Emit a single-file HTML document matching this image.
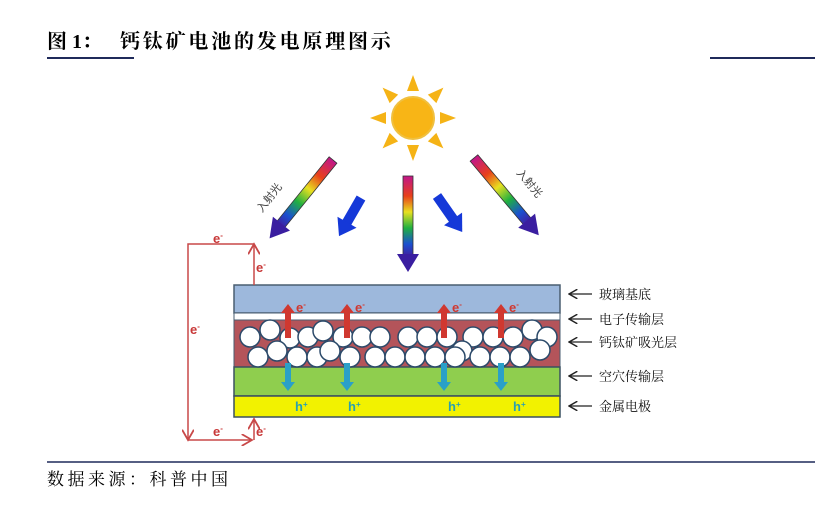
<!DOCTYPE html>
<html><head><meta charset="utf-8"><style>
body{margin:0;background:#fff;width:826px;height:531px;overflow:hidden}
svg{display:block}
</style></head><body>
<svg width="826" height="531" viewBox="0 0 826 531" xmlns="http://www.w3.org/2000/svg">
<defs>
<linearGradient id="rb" x1="0" y1="0" x2="0" y2="1">
<stop offset="0" stop-color="#c0168a"/><stop offset="0.25" stop-color="#e8401a"/><stop offset="0.45" stop-color="#e8e020"/><stop offset="0.65" stop-color="#20b040"/><stop offset="0.85" stop-color="#1a50d0"/><stop offset="1" stop-color="#4020a0"/>
</linearGradient>
<g id="rarrow"><rect x="-5" y="0" width="10" height="80" fill="url(#rb)" stroke="#333" stroke-width="0.8"/><polygon points="-11,78 11,78 0,96" fill="#3a1ea0"/></g>
<g id="barrow"><rect x="-5" y="0" width="10" height="30" fill="#1538d8"/><polygon points="-11,28 11,28 0,44" fill="#1538d8"/></g>
<marker id="ra" markerWidth="8" markerHeight="8" refX="7" refY="4" orient="auto"><path d="M0,0 L7,4 L0,8" fill="none" stroke="#c84848" stroke-width="1.2"/></marker>
<marker id="ka" markerWidth="8" markerHeight="8" refX="7" refY="4" orient="auto"><path d="M0,0 L7,4 L0,8" fill="none" stroke="#222" stroke-width="1.2"/></marker>
</defs>
<g font-family="Liberation Serif, Noto Serif CJK SC, serif" font-size="20" font-weight="bold" fill="#000">
<text x="47" y="48">图 1：</text>
<text x="120" y="48" letter-spacing="2.8">钙钛矿电池的发电原理图示</text>
</g>
<line x1="47" y1="58" x2="134" y2="58" stroke="#1f2a5a" stroke-width="2"/>
<line x1="710" y1="58" x2="815" y2="58" stroke="#1f2a5a" stroke-width="2"/>
<g transform="translate(413,118)" fill="#f5b316">
<circle r="21" fill="#f8b516" stroke="#f0c040" stroke-width="2"/>
<g id="ray"><polygon points="-6,-27 6,-27 0,-43"/></g>
<use href="#ray" transform="rotate(45)"/><use href="#ray" transform="rotate(90)"/><use href="#ray" transform="rotate(135)"/><use href="#ray" transform="rotate(180)"/><use href="#ray" transform="rotate(225)"/><use href="#ray" transform="rotate(270)"/><use href="#ray" transform="rotate(315)"/>
</g>
<use href="#rarrow" transform="translate(333,160) rotate(39) scale(1,1.05)"/>
<use href="#rarrow" transform="translate(408,176)"/>
<use href="#rarrow" transform="translate(474,158) rotate(-40) scale(1,1.05)"/>
<use href="#barrow" transform="translate(361,198) rotate(30)"/>
<use href="#barrow" transform="translate(437,196) rotate(-35)"/>
<text font-family="Liberation Sans, Noto Sans CJK SC, sans-serif" font-size="11" fill="#444" transform="translate(262,213) rotate(-52)">入射光</text>
<text font-family="Liberation Sans, Noto Sans CJK SC, sans-serif" font-size="11" fill="#444" transform="translate(516,173) rotate(50)">入射光</text>
<rect x="234" y="285" width="326" height="28" fill="#9db8dc" stroke="#4a5e70" stroke-width="1.5"/>
<rect x="234" y="313" width="326" height="7" fill="#fff" stroke="#4a5e70" stroke-width="1"/>
<rect x="234" y="320" width="326" height="47" fill="#b4545a" stroke="#4a5e70" stroke-width="1"/>
<rect x="234" y="367" width="326" height="29" fill="#8fce4e" stroke="#3a5060" stroke-width="1.5"/>
<rect x="234" y="396" width="326" height="21" fill="#f2f200" stroke="#3a5060" stroke-width="1.5"/>
<g fill="#fff" stroke="#2c4a6a" stroke-width="1.5">
<circle cx="250" cy="337" r="10"/><circle cx="270" cy="330" r="10"/><circle cx="290" cy="338" r="10"/><circle cx="308" cy="337" r="10"/><circle cx="323" cy="331" r="10"/><circle cx="343" cy="337" r="10"/><circle cx="362" cy="337" r="10"/><circle cx="380" cy="337" r="10"/><circle cx="408" cy="337" r="10"/><circle cx="427" cy="337" r="10"/><circle cx="447" cy="337" r="10"/><circle cx="473" cy="337" r="10"/><circle cx="493" cy="337" r="10"/><circle cx="513" cy="337" r="10"/><circle cx="532" cy="330" r="10"/><circle cx="547" cy="337" r="10"/>
<circle cx="258" cy="357" r="10"/><circle cx="277" cy="351" r="10"/><circle cx="297" cy="357" r="10"/><circle cx="317" cy="357" r="10"/><circle cx="330" cy="351" r="10"/><circle cx="350" cy="357" r="10"/><circle cx="375" cy="357" r="10"/><circle cx="395" cy="357" r="10"/><circle cx="415" cy="357" r="10"/><circle cx="435" cy="357" r="10"/><circle cx="462" cy="351" r="10"/><circle cx="455" cy="357" r="10"/><circle cx="480" cy="357" r="10"/><circle cx="500" cy="357" r="10"/><circle cx="520" cy="357" r="10"/><circle cx="540" cy="350" r="10"/>
</g>
<g font-family="Liberation Sans, sans-serif" font-weight="bold" font-size="13">
<g fill="#d03830">
<rect x="285" y="312" width="6" height="26"/><polygon points="281,313 295,313 288,304"/>
<rect x="344" y="312" width="6" height="26"/><polygon points="340,313 354,313 347,304"/>
<rect x="441" y="312" width="6" height="26"/><polygon points="437,313 451,313 444,304"/>
<rect x="498" y="312" width="6" height="26"/><polygon points="494,313 508,313 501,304"/>
<text x="296" y="312">e<tspan font-size="8" dy="-5">-</tspan></text>
<text x="355" y="312">e<tspan font-size="8" dy="-5">-</tspan></text>
<text x="452" y="312">e<tspan font-size="8" dy="-5">-</tspan></text>
<text x="509" y="312">e<tspan font-size="8" dy="-5">-</tspan></text>
</g>
<g fill="#2aa0c8">
<rect x="285" y="363" width="6" height="20"/><polygon points="281,382 295,382 288,391"/>
<rect x="344" y="363" width="6" height="20"/><polygon points="340,382 354,382 347,391"/>
<rect x="441" y="363" width="6" height="20"/><polygon points="437,382 451,382 444,391"/>
<rect x="498" y="363" width="6" height="20"/><polygon points="494,382 508,382 501,391"/>
</g>
<g fill="#2aa0b0">
<text x="295" y="411">h<tspan font-size="8" dy="-4">+</tspan></text>
<text x="348" y="411">h<tspan font-size="8" dy="-4">+</tspan></text>
<text x="448" y="411">h<tspan font-size="8" dy="-4">+</tspan></text>
<text x="513" y="411">h<tspan font-size="8" dy="-4">+</tspan></text>
</g>
<g stroke="#c84848" stroke-width="1.5" fill="none">
<polyline points="254,285 254,244" marker-end="url(#ra)"/>
<polyline points="254,244 188,244 188,440" marker-end="url(#ra)"/>
<polyline points="188,440 252,440" marker-end="url(#ra)"/>
<polyline points="254,440 254,419" marker-end="url(#ra)"/>
</g>
<g fill="#c83838">
<text x="213" y="243">e<tspan font-size="8" dy="-5">-</tspan></text>
<text x="256" y="272">e<tspan font-size="8" dy="-5">-</tspan></text>
<text x="190" y="334">e<tspan font-size="8" dy="-5">-</tspan></text>
<text x="213" y="436">e<tspan font-size="8" dy="-5">-</tspan></text>
<text x="256" y="436">e<tspan font-size="8" dy="-5">-</tspan></text>
</g>
</g>
<g stroke="#222" stroke-width="1.2">
<line x1="592" y1="294" x2="569" y2="294" marker-end="url(#ka)"/>
<line x1="592" y1="319" x2="569" y2="319" marker-end="url(#ka)"/>
<line x1="592" y1="342" x2="569" y2="342" marker-end="url(#ka)"/>
<line x1="592" y1="376" x2="569" y2="376" marker-end="url(#ka)"/>
<line x1="592" y1="406" x2="569" y2="406" marker-end="url(#ka)"/>
</g>
<g font-family="Liberation Serif, Noto Serif CJK SC, serif" font-size="13" fill="#111">
<text x="599" y="299">玻璃基底</text>
<text x="599" y="324">电子传输层</text>
<text x="599" y="347">钙钛矿吸光层</text>
<text x="599" y="381">空穴传输层</text>
<text x="599" y="411">金属电极</text>
</g>
<line x1="47" y1="462" x2="815" y2="462" stroke="#1f2a5a" stroke-width="1.5"/>
<text x="47" y="485" font-family="Liberation Serif, Noto Serif CJK SC, serif" font-size="17" letter-spacing="3.5" fill="#000">数据来源：科普中国</text>
</svg>
</body></html>
